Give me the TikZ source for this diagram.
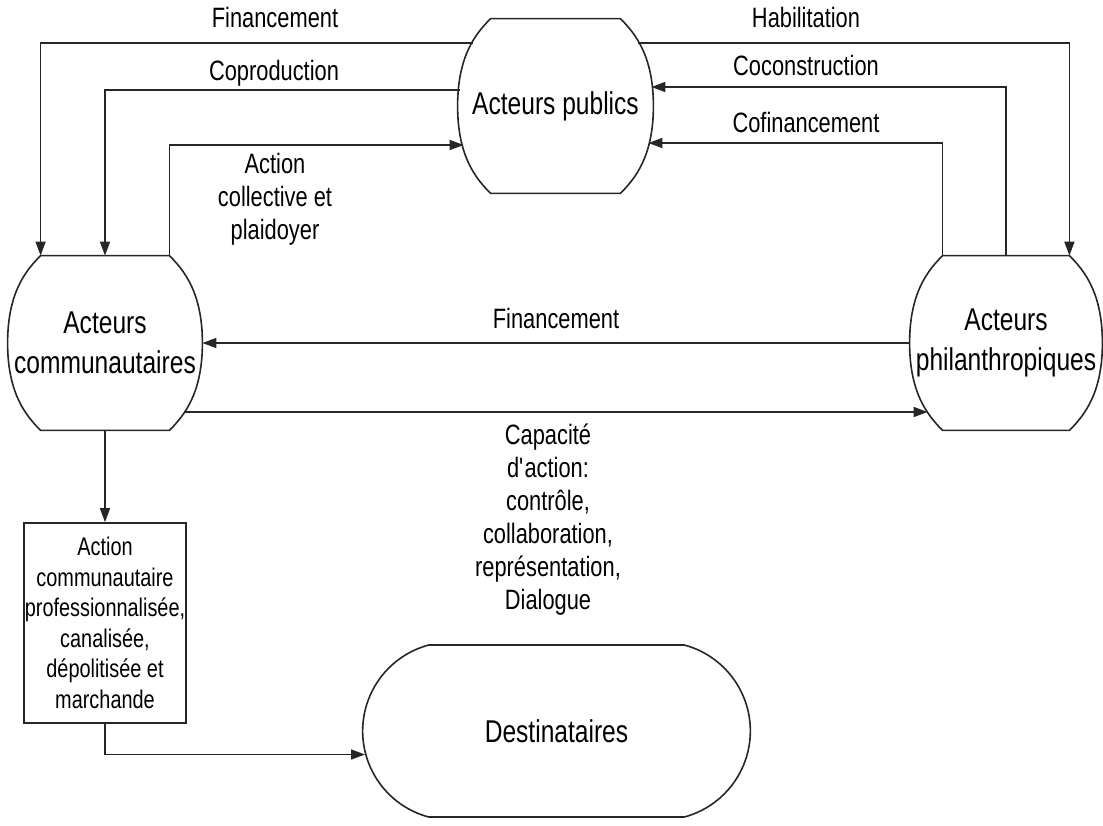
\documentclass[tikz,border=0pt]{standalone}
\usepackage{fontspec}
\setmainfont{Liberation Sans}[FakeStretch=0.78]
\usetikzlibrary{arrows.meta,positioning,calc,shapes.misc}

\begin{document}
\begin{tikzpicture}[
  x=0.5pt, y=-0.5pt,
  line/.style={draw=black!85, line width=0.8pt},
  arrow/.style={line, -{Triangle[length=7pt,width=5pt]}},
  barrel/.style={rectangle, inner sep=0pt, minimum height=87pt, align=center,
    font=\fontsize{15.75}{20}\selectfont,
    append after command={\pgfextra{
      \draw[line] ($(\tikzlastnode.north west)+(33,0)$) -- ($(\tikzlastnode.north east)+(-33,0)$)
        .. controls +(15,15) and +(0,-50) .. (\tikzlastnode.east)
        .. controls +(0,50) and +(15,-15) .. ($(\tikzlastnode.south east)+(-33,0)$)
        -- ($(\tikzlastnode.south west)+(33,0)$)
        .. controls +(-15,-15) and +(0,50) .. (\tikzlastnode.west)
        .. controls +(0,-50) and +(-15,15) .. cycle;}}},
  pill/.style={line, fill=white, rounded rectangle, rounded rectangle arc length=150,
    minimum height=86pt, minimum width=200.5pt, font=\fontsize{15.75}{20}\selectfont},
  panel/.style={line, rectangle, minimum width=81pt, minimum height=100pt,
    inner sep=0pt, align=center, font=\fontsize{12.75}{15.25}\selectfont},
  lab/.style={inner sep=0pt, align=center, font=\fontsize{14}{16.5}\selectfont}
]
  \useasboundingbox (0,0) rectangle (1103,825);

  % actors
  \node[barrel, minimum width=97.5pt] (pub) at (555.5,106) {Acteurs publics};
  \node[barrel, minimum width=97pt] (com) at (105,343) {Acteurs\\communautaires};
  \node[barrel, minimum width=96pt] (phi) at (1006,343) {Acteurs\\philanthropiques};
  \node[panel] (action) at (105,623) {Action\\communautaire\\professionnalisée,\\canalisée,\\dépolitisée et\\marchande};
  \node[pill] (dest) at (556.5,731) {Destinataires};

  % relations with the public actors
  \draw[arrow] ($(pub.west)+(15,-63)$) -| ($(com.north west)+(33,0)$);
  \draw[arrow] ($(pub.west)+(2,-16)$) -| (com.north);
  \draw[arrow] ($(com.north east)+(-33,0)$) |- ($(pub.west)+(6,39)$);
  \draw[arrow] ($(pub.east)+(-15,-63)$) -| ($(phi.north east)+(-33,0)$);
  \draw[arrow] (phi.north) |- ($(pub.east)+(-2,-19)$);
  \draw[arrow] ($(phi.north west)+(33,0)$) |- ($(pub.east)+(-5,37)$);

  % between communities and philanthropy
  \draw[arrow] (phi.west) -- (com.east);
  \draw[arrow] ($(com.east)+(-18,69)$) -- ($(phi.west)+(18,69)$);

  % down to the recipients
  \draw[arrow] (com.south) -- (action.north);
  \draw[arrow] (action.south) |- (dest.187);

  % labels
  \node[lab, anchor=base] (tfin) at (275,27) {Financement};
  \node[lab, anchor=base] (tcop) at (274,80) {Coproduction};
  \node[lab, anchor=north] (tcol) at (275,153) {Action\\collective et\\plaidoyer};
  \node[lab, anchor=base] (thab) at (806,27) {Habilitation};
  \node[lab, anchor=base] (tcoc) at (806,75) {Coconstruction};
  \node[lab, anchor=base] (tcof) at (806,132) {Cofinancement};
  \node[lab, anchor=base] (tfinb) at (556,328) {Financement};
  \node[lab, anchor=north] (tcap) at (548,423) {Capacité\\d\textquotesingle action:\\contrôle,\\collaboration,\\représentation,\\Dialogue};
\end{tikzpicture}
\end{document}
